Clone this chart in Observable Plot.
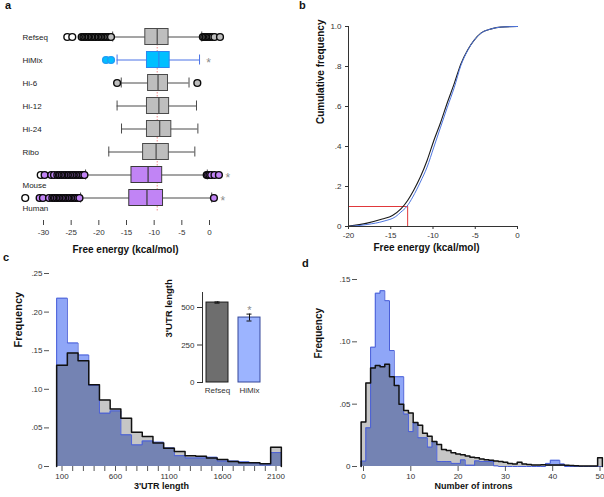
<!DOCTYPE html>
<html><head><meta charset="utf-8">
<script src="https://cdn.jsdelivr.net/npm/d3@7"></script>
<script src="https://cdn.jsdelivr.net/npm/@observablehq/plot@0.6"></script>
<style>
html,body{margin:0;padding:0;background:#fff;}
#fig{position:relative;width:604px;height:497px;background:#fff;overflow:hidden;font-family:"Liberation Sans",Arial,Helvetica,sans-serif;}
.plab{position:absolute;font:bold 11px "Liberation Sans",Arial,sans-serif;line-height:11px;color:#111;}
</style></head>
<body><div id="fig"></div>
<script>
// ---------- Panel a: box plots of free energy ----------
const catsA = ["Refseq","HiMix","Hi-6","Hi-12","Hi-24","Ribo","Mouse","Human"];
const q1A  = [-11.6,-11.3,-11.1,-11.3,-11.3,-12.0,-14.1,-14.5];
const medA = [-9.45,-9.15,-9.3,-9.15,-9.0,-9.65,-11.1,-11.3];
const q3A  = [-7.4,-7.2,-7.5,-7.3,-6.9,-7.35,-8.55,-8.4];
const loA  = [-17.5,-16.7,-15.95,-16.7,-15.9,-18.2,-22.4,-23.3];
const hiA  = [-1.4,-1.8,-3.7,-2.35,-2.1,-2.65,-0.4,0.4];
const groupA = ["gray","blue","gray","gray","gray","gray","purple","purple"];
const ticksA = [-30,-25,-20,-15,-10,-5,0];
const starCatsA = ["HiMix","Mouse","Human"];
// outliers
const openRefseq = [-25.7,-24.8];
const outRefseq = [-23.1,-22.8,-22.6,-22.3,-22.05,-21.8,-21.5,-21.3,-21.0,-20.75,-20.5,-20.2,-20.0,-19.7,-19.45,-19.2,-18.9,-18.65,-18.4,-18.1,-17.8,
                   -1.2,-0.95,-0.7,-0.4,-0.15,0.1,0.35,0.6,0.9,1.9];
const outHiMix = [-18.7,-17.8];
const outHi6 = [-16.7,-2.2];
const openMouse = [-30.5];
const outMouse = [-29.8,-28.6,-28.1,-27.5,-27.2,-27.0,-26.7,-26.4,-26.2,-25.9,-25.6,-25.4,-25.1,-24.8,-24.6,-24.3,-24.0,-23.7,-23.5,-23.2,-22.9,-22.6,
                  -0.5,-0.25,0.0,0.3,0.9,1.7];
const openHuman = [-33.3];
const outHuman = [-30.7,-30.1,-29.0,-28.4,-28.1,-27.9,-27.6,-27.3,-27.05,-26.8,-26.5,-26.25,-26.0,-25.7,-25.4,-25.2,-24.9,-24.6,-24.35,-24.1,-23.8,-23.5,
                  0.8];

// ---------- Panel b: cumulative frequency ----------
const refBx = [-20,-17.8,-16,-14.8,-13.8,-13,-12.3,-11.5,-10.7,-9.9,-9.1,-8.3,-7.5,-6.7,-5.9,-5.1,-4.3,-3.1,-2,0];
const refBy = [0.002,0.017,0.037,0.055,0.088,0.13,0.18,0.247,0.33,0.43,0.52,0.62,0.713,0.813,0.883,0.933,0.968,0.988,0.997,1];
const himixBx = [-20,-17.8,-15.8,-14.4,-13.8,-13.1,-12.4,-11.5,-10.7,-9.9,-9.1,-8.3,-7.5,-6.7,-5.9,-5.1,-4.3,-3.1,-2,0];
const himixBy = [0,0.01,0.027,0.05,0.072,0.10,0.147,0.222,0.297,0.397,0.497,0.597,0.693,0.805,0.88,0.933,0.967,0.988,0.997,1];
const cutBx = -13, cutBy = 0.1;
const ticksBx = [-20,-15,-10,-5,0];
const ticksBy = [0,0.2,0.4,0.6,0.8,1];

// ---------- Panel c: 3'UTR length histogram ----------
const binsC = [100,200,300,400,500,600,700,800,900,1000,1100,1200,1300,1400,1500,1600,1700,1800,1900,2000,2100];
const refC   = [0.131,0.147,0.137,0.106,0.086,0.0746,0.0625,0.0444,0.0388,0.0306,0.0237,0.0194,0.0138,0.0134,0.011,0.009,0.0065,0.005,0.0047,0.0035,0.025];
const himixC = [0.218,0.160,0.1444,0.105,0.069,0.072,0.041,0.028,0.033,0.0315,0.024,0.014,0.011,0.011,0.012,0.007,0.007,0.006,0.0043,0.002,0.018];
const labelsC = [100,600,1100,1600,2100];
const ticksCy = [0,0.05,0.10,0.15,0.20,0.25];
// inset
const insetCats = ["Refseq","HiMix"];
const insetMean = [533,433];
const insetErr  = [4,23];
const insetTicks = [0,250,500];

// ---------- Panel d: number of introns histogram ----------
const binsD = [0,1,2,3,4,5,6,7,8,9,10,11,12,13,14,15,16,17,18,19,20,21,22,23,24,25,26,27,28,29,30,31,32,33,34,35,36,37,38,39,40,41,42,43,44,45,46,47,48,49,50];
const refD = [0.0356,0.067,0.079,0.081,0.080,0.082,0.072,0.065,0.050,0.045,0.043,0.0353,0.033,0.0267,0.0243,0.020,0.0176,0.0136,0.0128,0.011,
              0.010,0.0094,0.0085,0.0075,0.007,0.006,0.0055,0.005,0.0045,0.004,0.0035,0.0025,0.002,0.0035,0.002,0.0016,0.0013,0.0013,0.0015,0.0013,
              0.0013,0.0012,0.0012,0.001,0.0008,0.0007,0.0005,0.0005,0.0005,0.0005,0.007];
const himixD = [0.0043,0.031,0.0957,0.139,0.141,0.133,0.093,0.072,0.072,0.042,0.028,0.035,0.023,0.023,0.0155,0.020,0.004,0.004,0.004,0.0025,
                0.0025,0.0053,0.001,0.001,0.0045,0.004,0.004,0.004,0.0005,0,0,0,0,0,0,0,0,0,0,0.0025,
                0.005,0.005,0.002,0,0,0,0,0,0,0,0];
const ticksDx = [0,10,20,30,40,50];
const ticksDy = [0,0.05,0.10,0.15];

// ---------- helpers ----------
const FONT = "'Liberation Sans', Arial, Helvetica, sans-serif";
const fig = document.getElementById("fig");
function place(svg, left, top) {
  svg.style.position = "absolute";
  svg.style.left = left + "px";
  svg.style.top = top + "px";
  svg.style.background = "transparent";
  svg.style.overflow = "visible";
  svg.style.maxWidth = "none";
  fig.appendChild(svg);
}
const baseStyle = {fontFamily: FONT, fontSize: "8px", color: "#333", background: "transparent"};
const dec2 = d => d === 0 ? "0" : d.toFixed(2).replace(/^0/, "");
const dec1 = d => d === 0 ? "0" : d >= 1 ? d.toFixed(1) : d.toFixed(1).replace(/^0/, "");
function stepPts(centers, vals, w) {
  const pts = [{x: centers[0] - w / 2, y: 0}];
  centers.forEach((c, i) => { pts.push({x: c - w / 2, y: vals[i]}); pts.push({x: c + w / 2, y: vals[i]}); });
  pts.push({x: centers[centers.length - 1] + w / 2, y: 0});
  return pts;
}
const GRAY = "#c6c6c6", LBLUE = "#8fa6f7", OVER = "#7483b3", BLINE = "#4a5fd8";

// panel letters
[["a",5,0],["b",299,0],["c",3,252],["d",302,258]].forEach(([t,x,y]) => {
  const el = document.createElement("div"); el.className = "plab"; el.textContent = t;
  el.style.left = x + "px"; el.style.top = y + "px"; fig.appendChild(el);
});

// ---------- draw panel a ----------
const rowsA = catsA.map((c, i) => ({cat: c, q1: q1A[i], med: medA[i], q3: q3A[i], lo: loA[i], hi: hiA[i], grp: groupA[i]}));
const fillOf = {gray: "#bebebe", blue: "#00bfff", purple: "#c184f5"};
const boxStroke = {gray: "#4a4a4a", blue: "#2b86f0", purple: "#3a3a3a"};
const whStroke = {gray: "#4a4a4a", blue: "#4a72e6", purple: "#4a4a4a"};
const outA = [];
function addOut(cat, vals, open) { vals.forEach(v => outA.push({cat, v, open})); }
addOut("Refseq", openRefseq, true); addOut("Refseq", outRefseq, false);
addOut("HiMix", outHiMix, false); addOut("Hi-6", outHi6, false);
addOut("Mouse", openMouse, true); addOut("Mouse", outMouse, false);
addOut("Human", openHuman, true); addOut("Human", outHuman, false);
const grpOf = Object.fromEntries(catsA.map((c, i) => [c, groupA[i]]));
const starsA = starCatsA.map(c => {
  const i = catsA.indexOf(c);
  const mx = d3.max([hiA[i], ...outA.filter(o => o.cat === c).map(o => o.v)]);
  return {cat: c, x: mx};
});
const pa = Plot.plot({
  width: 300, height: 260, marginTop: 24, marginBottom: 40, marginLeft: 20, marginRight: 20,
  x: {domain: [-30, 0], range: [43, 209]},
  y: {type: "band", domain: catsA, range: [24.5, 208.5], padding: 0, axis: null},
  style: baseStyle,
  marks: [
    Plot.ruleX([medA[0]], {x: d => d, stroke: "#f08a8a", strokeDasharray: "1.5,1.5", insetTop: 5, insetBottom: 8}),
    Plot.ruleY(rowsA, {y: "cat", x1: "lo", x2: "hi", stroke: d => whStroke[d.grp]}),
    Plot.tickX(rowsA, {x: "lo", y: "cat", stroke: d => whStroke[d.grp], insetTop: 6.5, insetBottom: 6.5}),
    Plot.tickX(rowsA, {x: "hi", y: "cat", stroke: d => whStroke[d.grp], insetTop: 6.5, insetBottom: 6.5}),
    Plot.barX(rowsA, {x1: "q1", x2: "q3", y: "cat", fill: d => fillOf[d.grp], stroke: d => boxStroke[d.grp], strokeWidth: 1, insetTop: 3.5, insetBottom: 3.5}),
    Plot.tickX(rowsA, {x: "med", y: "cat", stroke: d => boxStroke[d.grp], strokeWidth: 1.2, insetTop: 3.5, insetBottom: 3.5}),
    Plot.dot(outA, {x: "v", y: "cat", r: 3.4,
      fill: d => d.open ? "#ffffff" : fillOf[grpOf[d.cat]],
      stroke: d => grpOf[d.cat] === "blue" ? "#1e9cf5" : "#0a0a0a", strokeWidth: 1.4}),
    Plot.text(catsA.slice(0, 6), {text: d => d, y: d => d, frameAnchor: "left", textAnchor: "start", dx: 2, fontSize: 8, fill: "#222"}),
    Plot.text(catsA.slice(6), {text: d => d, y: d => d, frameAnchor: "left", textAnchor: "start", dx: 2, dy: 10, fontSize: 8, fill: "#222"}),
    Plot.text(starsA, {x: "x", y: "cat", text: () => "*", dx: 9, dy: 3, fontSize: 12, fill: "#8a8a8a"}),
    Plot.axisX({ticks: ticksA, tickSize: 5, tickPadding: 4, tickFormat: d => String(d), label: null, stroke: "#444"}),
    Plot.text(["Free energy (kcal/mol)"], {text: d => d, frameAnchor: "bottom", dx: -25, dy: 32, fontWeight: "bold", fontSize: 10, fill: "#111"})
  ]
});
place(pa, 0, 0);

// ---------- draw panel b ----------
const refB = refBx.map((x, i) => ({x, y: refBy[i]}));
const himixB = himixBx.map((x, i) => ({x, y: himixBy[i]}));
const pb = Plot.plot({
  width: 304, height: 260, marginLeft: 48, marginRight: 87, marginTop: 26, marginBottom: 34,
  x: {domain: [ticksBx[0], ticksBx[ticksBx.length - 1]]},
  y: {domain: [0, 1]},
  style: baseStyle,
  marks: [
    Plot.ruleY([cutBy], {y: d => d, x1: ticksBx[0], x2: cutBx, stroke: "#e0383b", strokeWidth: 1}),
    Plot.ruleX([cutBx], {x: d => d, y1: 0, y2: cutBy, stroke: "#e0383b", strokeWidth: 1}),
    Plot.line(refB, {x: "x", y: "y", curve: "monotone-x", stroke: "#1a1a1a", strokeWidth: 1.1}),
    Plot.line(himixB, {x: "x", y: "y", curve: "monotone-x", stroke: "#4d75e0", strokeWidth: 1}),
    Plot.ruleX([ticksBx[0]], {x: d => d, stroke: "#333"}),
    Plot.ruleY([0], {y: d => d, stroke: "#333"}),
    Plot.axisY({ticks: ticksBy, tickSize: 3, tickPadding: 4, tickFormat: dec1, label: null, stroke: "#333"}),
    Plot.axisX({ticks: ticksBx, tickSize: 3, tickPadding: 3, tickFormat: d => String(d), label: null, stroke: "#333"}),
    Plot.text(["Cumulative frequency"], {text: d => d, frameAnchor: "left", rotate: -90, dx: -28, dy: -2.5, fontWeight: "bold", fontSize: 10, fill: "#111"}),
    Plot.text(["Free energy (kcal/mol)"], {text: d => d, frameAnchor: "bottom", dx: -6.5, dy: 24, fontWeight: "bold", fontSize: 10, fill: "#111"})
  ]
});
place(pb, 300, 0);

// ---------- draw panel c ----------
function histMarks(centers, refV, hiV, w) {
  const minV = refV.map((v, i) => Math.min(v, hiV[i]));
  return [
    Plot.area(stepPts(centers, refV, w), {x1: "x", y1: 0, y2: "y", fill: GRAY}),
    Plot.area(stepPts(centers, hiV, w), {x1: "x", y1: 0, y2: "y", fill: LBLUE}),
    Plot.area(stepPts(centers, minV, w), {x1: "x", y1: 0, y2: "y", fill: OVER}),
    Plot.line(stepPts(centers, hiV, w), {x: "x", y: "y", stroke: BLINE, strokeWidth: 1}),
    Plot.line(stepPts(centers, refV, w), {x: "x", y: "y", stroke: "#111", strokeWidth: 1.5})
  ];
}
const pc = Plot.plot({
  width: 300, height: 242, marginTop: 18, marginBottom: 31, marginLeft: 49, marginRight: 15,
  x: {domain: [binsC[0], binsC[binsC.length - 1]], range: [61.5, 275.5]},
  y: {domain: [0, 0.25]},
  style: baseStyle,
  marks: [
    ...histMarks(binsC, refC, himixC, binsC[1] - binsC[0]),
    Plot.axisY({ticks: ticksCy, tickSize: 5, tickPadding: 2, tickFormat: dec2, label: null, stroke: "#555"}),
    Plot.axisX({ticks: binsC, tickSize: 5, tickPadding: 2, tickFormat: d => labelsC.includes(d) ? String(d) : "", label: null, stroke: "#555"}),
    Plot.text(["Frequency"], {text: d => d, frameAnchor: "left", rotate: -90, dx: -31, dy: -22.5, fontWeight: "bold", fontSize: 11, fill: "#111"}),
    Plot.text(["3'UTR length"], {text: d => d, frameAnchor: "bottom", dx: -6, dy: 22, fontWeight: "bold", fontSize: 9, fill: "#111"})
  ]
});
place(pc, 0, 255);

// inset
const insetRows = insetCats.map((c, i) => ({cat: c, v: insetMean[i], e: insetErr[i]}));
const insetFill = {Refseq: "#6e6e6e", HiMix: "#9cb4ff"};
const insetStroke = {Refseq: "#1a1a1a", HiMix: "#34479a"};
const piW = 120, piML = 52, piMR = 6;
const pi = Plot.plot({
  width: piW, height: 115, marginTop: 7, marginBottom: 18, marginLeft: piML, marginRight: piMR,
  x: {type: "band", domain: insetCats, range: [53, 114], paddingInner: 0.3, paddingOuter: 0.1},
  y: {domain: [0, 600]},
  style: baseStyle,
  marks: [
    Plot.barY(insetRows, {x: "cat", y: "v", fill: d => insetFill[d.cat], stroke: d => insetStroke[d.cat], strokeWidth: 1}),
    Plot.ruleX(insetRows, {x: "cat", y1: d => d.v - d.e, y2: d => d.v + d.e, stroke: "#111"}),
    Plot.tickY(insetRows, {x: "cat", y: d => d.v - d.e, stroke: "#111", insetLeft: 8.5, insetRight: 8.5}),
    Plot.tickY(insetRows, {x: "cat", y: d => d.v + d.e, stroke: "#111", insetLeft: 8.5, insetRight: 8.5}),
    Plot.text(insetRows.filter(d => d.cat === "HiMix"), {x: "cat", y: d => d.v + d.e, text: () => "*", dy: -4, fontSize: 11, fill: "#8a8a8a"}),
    Plot.frame({stroke: "#333", insetRight: piW - piML - piMR - 0.01}),
    Plot.axisY({ticks: insetTicks, tickSize: 5, tickPadding: 3, tickFormat: d => String(d), label: null, stroke: "#333"}),
    Plot.axisX({tickSize: 0, tickPadding: 5, label: null}),
    Plot.text(["3'UTR length"], {text: d => d, frameAnchor: "left", rotate: -90, dx: -34, fontWeight: "bold", fontSize: 9.5, fill: "#111"})
  ]
});
place(pi, 150, 285);

// ---------- draw panel d ----------
const pd = Plot.plot({
  width: 304, height: 242, marginTop: 24, marginBottom: 31, marginLeft: 57, marginRight: 4,
  x: {domain: [ticksDx[0], ticksDx[ticksDx.length - 1]], range: [63, 299.5]},
  y: {domain: [0, 0.15]},
  style: baseStyle,
  marks: [
    ...histMarks(binsD, refD, himixD, 1),
    Plot.axisY({ticks: ticksDy, tickSize: 5, tickPadding: 2, tickFormat: dec2, label: null, stroke: "#555"}),
    Plot.axisX({ticks: ticksDx, tickSize: 5, tickPadding: 2, tickFormat: d => String(d), label: null, stroke: "#555"}),
    Plot.text(["Frequency"], {text: d => d, frameAnchor: "left", rotate: -90, dx: -39, dy: -14.5, fontWeight: "bold", fontSize: 10, fill: "#111"}),
    Plot.text(["Number of introns"], {text: d => d, frameAnchor: "bottom", dx: -5.5, dy: 22, fontWeight: "bold", fontSize: 9, fill: "#111"})
  ]
});
place(pd, 300, 255);
</script>
</body></html>
